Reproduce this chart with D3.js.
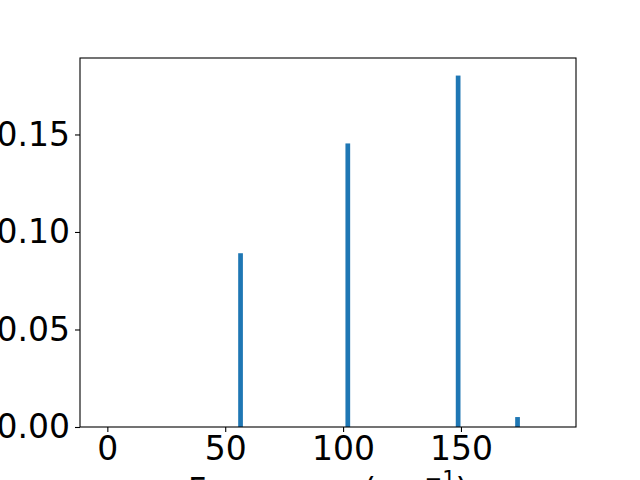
<!DOCTYPE html>
<html>
<head>
<meta charset="utf-8">
<script src="https://cdn.jsdelivr.net/npm/d3@7"></script>
<style>
  html, body { margin: 0; padding: 0; background: #fff; }
  svg { display: block; }
  text { font-family: "DejaVu Sans", sans-serif; }
</style>
</head>
<body>
<svg id="chart" width="640" height="480"></svg>
<script>
const frequencies = [56.5, 102.0, 148.8, 174.0];
const intensities = [0.0891, 0.1454, 0.1802, 0.0051];
const barWidth = 2.0;
const xTicks = [0, 50, 100, 150];
const yTicks = [0.00, 0.05, 0.10, 0.15];
const xLabelMain = "Frequency (cm";
const xLabelSup = "−1";
const xLabelEnd = ")";

const svg = d3.select("#chart");
const margin = {left: 80, right: 64, top: 58, bottom: 53};
const W = 640, H = 480;
const iw = W - margin.left - margin.right;
const ih = H - margin.top - margin.bottom;

const x = d3.scaleLinear().domain([-11.6, 198.8]).range([margin.left, margin.left + iw]);
const yMax = d3.max(intensities) * 1.05;
const y = d3.scaleLinear().domain([0, yMax]).range([margin.top + ih, margin.top]);

const g = svg.append("g");

g.selectAll("rect.bar")
  .data(frequencies.map((f, i) => ({f, v: intensities[i]})))
  .enter().append("rect")
  .attr("class", "bar")
  .attr("x", d => x(d.f - barWidth / 2))
  .attr("width", d => x(d.f + barWidth / 2) - x(d.f - barWidth / 2))
  .attr("y", d => y(d.v))
  .attr("height", d => y(0) - y(d.v))
  .attr("fill", "#1f77b4");

const fontSize = 33;

const xAxis = d3.axisBottom(x).tickValues(xTicks).tickFormat(d3.format("d")).tickSize(5).tickPadding(5);
const gx = svg.append("g").attr("transform", `translate(0,${margin.top + ih})`).call(xAxis);
gx.select(".domain").remove();
gx.selectAll("line").attr("stroke", "#000").attr("stroke-width", 1.1);
gx.selectAll("text").attr("font-size", fontSize).attr("fill", "#000").attr("font-family", "DejaVu Sans");

const yAxis = d3.axisLeft(y).tickValues(yTicks).tickFormat(d3.format(".2f")).tickSize(5).tickPadding(5);
const gy = svg.append("g").attr("transform", `translate(${margin.left},0)`).call(yAxis);
gy.select(".domain").remove();
gy.selectAll("line").attr("stroke", "#000").attr("stroke-width", 1.1);
gy.selectAll("text").attr("font-size", fontSize).attr("fill", "#000").attr("font-family", "DejaVu Sans");

svg.append("rect")
  .attr("x", margin.left).attr("y", margin.top)
  .attr("width", iw).attr("height", ih)
  .attr("fill", "none").attr("stroke", "#000").attr("stroke-width", 1.1);

const lbl = svg.append("text")
  .attr("x", margin.left + iw / 2)
  .attr("y", 500)
  .attr("text-anchor", "middle")
  .attr("font-size", 32)
  .attr("fill", "#000");
lbl.append("tspan").text(xLabelMain);
lbl.append("tspan").attr("font-size", 21).attr("dy", -14).text(xLabelSup);
lbl.append("tspan").attr("dy", 14).text(xLabelEnd);
</script>
</body>
</html>
